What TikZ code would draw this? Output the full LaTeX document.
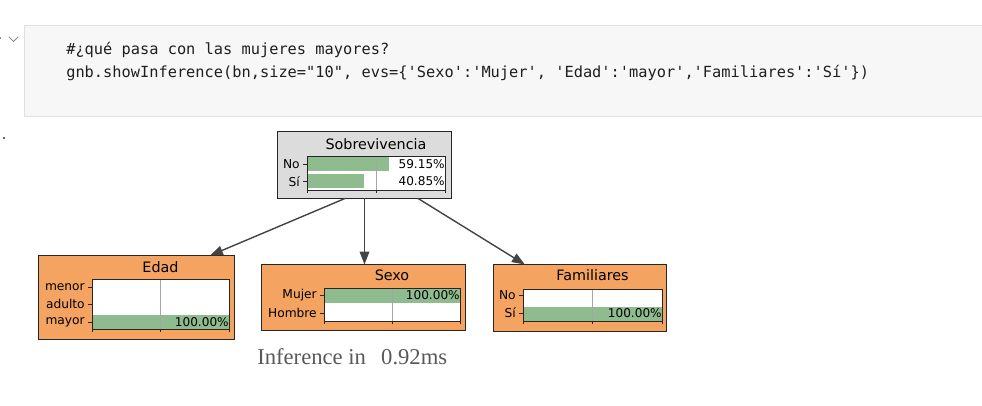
\documentclass[tikz,border=0pt]{standalone}
\usepackage{fontspec}
\newfontfamily\bnfont{DejaVu Sans}
\newfontfamily\codefont{DejaVu Sans Mono}
\newfontfamily\infofont{Liberation Serif}
\usetikzlibrary{arrows.meta}
\definecolor{celda}{HTML}{F7F7F7}
\definecolor{bordecelda}{HTML}{E0E0E0}
\definecolor{naranja}{HTML}{F4A460}
\definecolor{gris}{HTML}{DCDCDC}
\definecolor{verde}{HTML}{8FBC8F}
\definecolor{flecha}{HTML}{444444}
\tikzset{
  bnbox/.style={draw=black!85, line width=0.7pt, inner sep=0pt},
  bntitle/.style={font=\bnfont\fontsize{10.2}{12}\selectfont, inner sep=0pt},
  ylabel/.style={anchor=east, font=\bnfont\fontsize{8.7}{10}\selectfont, inner sep=0pt},
  pct/.style={anchor=east, font=\bnfont\fontsize{8.6}{10}\selectfont, inner sep=0pt},
  barra/.style={fill=verde},
  marco/.style={draw=black!85, line width=0.5pt},
  guia/.style={draw=black!35, line width=0.5pt},
  marca/.style={draw=black!85, line width=0.5pt},
  arco/.style={draw=flecha, line width=1pt, -{Triangle[length=0.32cm,width=0.24cm]}},
  codigo/.style={anchor=base west, inner sep=0pt, font=\codefont\fontsize{10.9}{13}\selectfont, text=black!88}
}
\begin{document}
\begin{tikzpicture}[x=0.025cm, y=-0.025cm]
    \useasboundingbox (0,0) rectangle (982,406);
    \fill[white] (0,0) rectangle (982,406);

    % 1. Celda de código
    \filldraw[fill=celda, draw=bordecelda] (24,25) rectangle (990,116);
    \draw[black!45, line width=0.6pt] (9,37) -- (13.5,41.5) -- (18,37);
    \fill[black!45] (0,37) rectangle (1.5,39);
    \fill[black!60] (3,137) rectangle (5,139);
    \node[codigo] (linea1) at (66,55) {\#¿qué pasa con las mujeres mayores?};
    \node[codigo] (linea2) at (66,78) {gnb.showInference(bn,size="10", evs=\{'Sexo':'Mujer', 'Edad':'mayor','Familiares':'Sí'\})};

    % 2. Nodo Sobrevivencia
    \node[bnbox, fill=gris, minimum width=4.325cm, minimum height=1.65cm] (sobre) at (364.5,165) {};
    \node[bntitle] (sobreT) at (376,144) {Sobrevivencia};
    \fill[white] (307,156) rectangle (445,190);
    \fill[barra] (307,157.5) rectangle (389,171.5);
    \fill[barra] (307,174.5) rectangle (364,188.5);
    \draw[guia] (376,156) -- (376,190);
    \draw[marco] (307,156) rectangle (445,190);
    \foreach \x in {307,376,445} \draw[marca] (\x,190) -- (\x,193);
    \foreach \y in {164.5,181.5} \draw[marca] (303,\y) -- (307,\y);
    \node[ylabel] (sobreNo) at (300,164.5) {No};
    \node[ylabel] (sobreSi) at (300,181.5) {Sí};
    \node[pct] (sobreP1) at (445,164.5) {59.15\%};
    \node[pct] (sobreP2) at (445,181.5) {40.85\%};

    % 3. Nodo Edad
    \node[bnbox, fill=naranja, minimum width=4.875cm, minimum height=2.075cm] (edad) at (136.5,297.5) {};
    \node[bntitle] (edadT) at (160.5,267) {Edad};
    \fill[white] (92,279) rectangle (229,329);
    \fill[barra] (92,315) rectangle (229,329);
    \draw[guia] (160.5,279) -- (160.5,329);
    \draw[marco] (92,279) rectangle (229,329);
    \foreach \x in {92,160.5,229} \draw[marca] (\x,329) -- (\x,332);
    \foreach \y in {287,304,322} \draw[marca] (88,\y) -- (92,\y);
    \node[ylabel] (edadMenor) at (85,287) {menor};
    \node[ylabel] (edadAdulto) at (85,304) {adulto};
    \node[ylabel] (edadMayor) at (85,322) {mayor};
    \node[pct] (edadP) at (229,322) {100.00\%};

    % 4. Nodo Sexo
    \node[bnbox, fill=naranja, minimum width=5.075cm, minimum height=1.625cm] (sexo) at (363.5,297.5) {};
    \node[bntitle] (sexoT) at (392,275) {Sexo};
    \fill[white] (324,288) rectangle (460,321);
    \fill[barra] (324,289) rectangle (460,303);
    \draw[guia] (392,288) -- (392,321);
    \draw[marco] (324,288) rectangle (460,321);
    \foreach \x in {324,392,460} \draw[marca] (\x,321) -- (\x,324);
    \foreach \y in {295,313} \draw[marca] (320,\y) -- (324,\y);
    \node[ylabel] (sexoMujer) at (317,295) {Mujer};
    \node[ylabel] (sexoHombre) at (317,313) {Hombre};
    \node[pct] (sexoP) at (460,295) {100.00\%};

    % 5. Nodo Familiares
    \node[bnbox, fill=naranja, minimum width=4.3cm, minimum height=1.65cm] (fam) at (580,298) {};
    \node[bntitle] (famT) at (592.5,275) {Familiares};
    \fill[white] (523,289) rectangle (662,321);
    \fill[barra] (523,307) rectangle (662,321);
    \draw[guia] (592.5,289) -- (592.5,321);
    \draw[marco] (523,289) rectangle (662,321);
    \foreach \x in {523,592.5,662} \draw[marca] (\x,321) -- (\x,324);
    \foreach \y in {295,313} \draw[marca] (519,\y) -- (523,\y);
    \node[ylabel] (famNo) at (516,295) {No};
    \node[ylabel] (famSi) at (516,313) {Sí};
    \node[pct] (famP) at (662,313) {100.00\%};

    % 6. Arcos
    \draw[arco] ([xshift=-0.49cm]sobre.south) -- ([xshift=1.84cm]edad.north);
    \draw[arco] (sobre.south) -- (sobre.south |- sexo.north);
    \draw[arco] ([xshift=1.34cm]sobre.south) -- ([xshift=-1.38cm]fam.north);

    % 7. Tiempo de inferencia
    \node[anchor=west, inner sep=0pt, font=\infofont\fontsize{16.1}{18}\selectfont, text=black!65] (tiempo) at (257,357) {Inference in\hspace{0.67em}0.92ms};
\end{tikzpicture}
\end{document}
